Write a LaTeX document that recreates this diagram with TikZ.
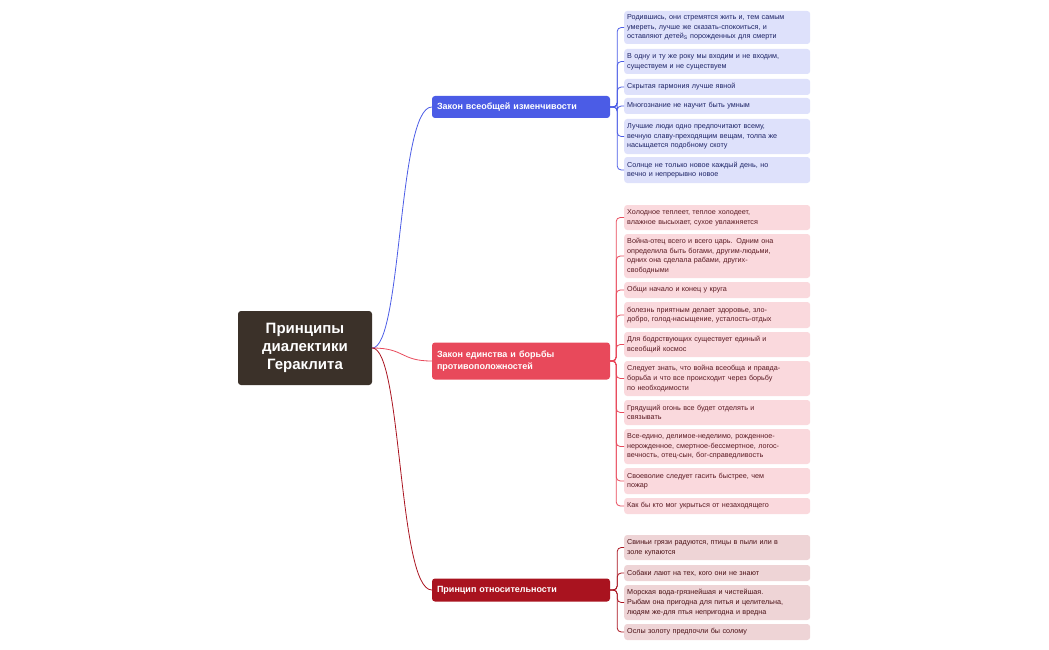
\documentclass[tikz,border=0pt]{standalone}
\usepackage{fontspec}
\setmainfont{Liberation Sans}
\usetikzlibrary{positioning,calc}
\definecolor{rootc}{HTML}{3B3129}
\definecolor{bluec}{HTML}{4B5CE6}
\definecolor{bluel}{HTML}{DEE1FB}
\definecolor{bluet}{HTML}{1E2466}
\definecolor{redc}{HTML}{E8495B}
\definecolor{redl}{HTML}{FAD9DD}
\definecolor{redt}{HTML}{5A1A22}
\definecolor{darkc}{HTML}{A9131F}
\definecolor{darkl}{HTML}{EED4D6}
\definecolor{darkt}{HTML}{4A1015}
\begin{document}
\begin{tikzpicture}[x=1pt,y=-1pt,
    % Root
    root/.style={
        fill=rootc,
        text=white,
        rounded corners=3pt,
        minimum width=134pt,
        minimum height=74pt,
        align=center,
        font=\fontsize{15}{18}\selectfont\bfseries
    },
    % Branch
    branch/.style={
        fill=#1,
        text=white,
        rounded corners=3pt,
        minimum width=178pt,
        text width=168pt,
        align=left,
        inner sep=4pt,
        font=\fontsize{9}{12}\selectfont\bfseries
    },
    % Leaf
    leaf/.style n args={3}{
        fill=#1,
        text=#2,
        rounded corners=3pt,
        anchor=west,
        minimum width=186pt,
        text width=180pt,
        minimum height=#3,
        inner sep=3pt,
        align=left,
        font=\fontsize{7.2}{9.6}\selectfont
    },
    % Connector
    link/.style={draw=#1, line width=0.8pt, rounded corners=4pt}
]
\useasboundingbox (0,0) rectangle (1049,650);

\node[root] (root) at (305,348) {Принципы\\диалектики\\Гераклита};

\node[branch=bluec, minimum height=22pt] (law1) at (521,107) {Закон всеобщей изменчивости};
\node[branch=redc, minimum height=37pt] (law2) at (521,361) {Закон единства и борьбы\\противоположностей};
\node[branch=darkc, minimum height=23pt] (law3) at (521,590) {Принцип относительности};

% Blue leaves
\node[leaf={bluel}{bluet}{33pt}] (b1) at (624,27.5) {Родившись, они стремятся жить и, тем самым\\умереть, лучше же сказать-спокоиться, и\\оставляют детей\textsubscript{Ѕ} порожденных для смерти};
\node[leaf={bluel}{bluet}{25pt}] (b2) at (624,61.5) {В одну и ту же року мы входим и не входим,\\существуем и не существуем};
\node[leaf={bluel}{bluet}{16pt}] (b3) at (624,87) {Скрытая гармония лучше явной};
\node[leaf={bluel}{bluet}{16pt}] (b4) at (624,106) {Многознание не научит быть умным};
\node[leaf={bluel}{bluet}{35pt}] (b5) at (624,136.5) {Лучшие люди одно предпочитают всему,\\вечную славу-преходящим вещам, толпа же\\насыщается подобному скоту};
\node[leaf={bluel}{bluet}{26pt}] (b6) at (624,170) {Солнце не только новое каждый день, но\\вечно и непрерывно новое};

% Red leaves
\node[leaf={redl}{redt}{25pt}] (r1) at (624,217.5) {Холодное теплеет, теплое холодеет,\\влажное высыхает, сухое увлажняется};
\node[leaf={redl}{redt}{44pt}] (r2) at (624,256) {Война-отец всего и всего царь. Одним она\\определила быть богами, другим-людьми,\\одних она сделала рабами, других-\\свободными};
\node[leaf={redl}{redt}{16pt}] (r3) at (624,290) {Общи начало и конец у круга};
\node[leaf={redl}{redt}{26pt}] (r4) at (624,315) {болезнь приятным делает здоровье, зло-\\добро, голод-насыщение, усталость-отдых};
\node[leaf={redl}{redt}{25pt}] (r5) at (624,344.5) {Для бодрствующих существует единый и\\всеобщий космос};
\node[leaf={redl}{redt}{35pt}] (r6) at (624,378.5) {Следует знать, что война всеобща и правда-\\борьба и что все происходит через борьбу\\по необходимости};
\node[leaf={redl}{redt}{25pt}] (r7) at (624,412.5) {Грядущий огонь все будет отделять и\\связывать};
\node[leaf={redl}{redt}{35pt}] (r8) at (624,446.5) {Все-едино, делимое-неделимо, рожденное-\\нерожденное, смертное-бессмертное, логос-\\вечность, отец-сын, бог-справедливость};
\node[leaf={redl}{redt}{26pt}] (r9) at (624,481) {Своеволие следует гасить быстрее, чем\\пожар};
\node[leaf={redl}{redt}{16pt}] (r10) at (624,506) {Как бы кто мог укрыться от незаходящего};

% Dark red leaves
\node[leaf={darkl}{darkt}{25pt}] (d1) at (624,547.5) {Свиньи грязи радуются, птицы в пыли или в\\золе купаются};
\node[leaf={darkl}{darkt}{16pt}] (d2) at (624,573) {Собаки лают на тех, кого они не знают};
\node[leaf={darkl}{darkt}{35pt}] (d3) at (624,602.5) {Морская вода-грязнейшая и чистейшая.\\Рыбам она пригодна для питья и целительна,\\людям же-для птья непригодна и вредна};
\node[leaf={darkl}{darkt}{16pt}] (d4) at (624,632) {Ослы золоту предпочли бы солому};

% Root to branches
\draw[bluec, line width=0.8pt] (root.east) .. controls (402,348) and (398,107) .. (law1.west);
\draw[redc, line width=0.8pt] (root.east) .. controls (405,348) and (400,361) .. (law2.west);
\draw[darkc, line width=0.8pt] (root.east) .. controls (402,348) and (398,590) .. (law3.west);

% Branches to leaves
\coordinate (j1) at ($(law1.east)+(7,0)$);
\coordinate (j2) at ($(law2.east)+(6,0)$);
\coordinate (j3) at ($(law3.east)+(7,0)$);
\foreach \n in {b1,b2,b3,b4,b5,b6}
    \draw[link=bluec] (law1.east) -- (j1) |- (\n.west);
\foreach \n in {r1,r2,r3,r4,r5,r6,r7,r8,r9,r10}
    \draw[link=redc] (law2.east) -- (j2) |- (\n.west);
\foreach \n in {d1,d2,d3,d4}
    \draw[link=darkc] (law3.east) -- (j3) |- (\n.west);

\end{tikzpicture}
\end{document}
